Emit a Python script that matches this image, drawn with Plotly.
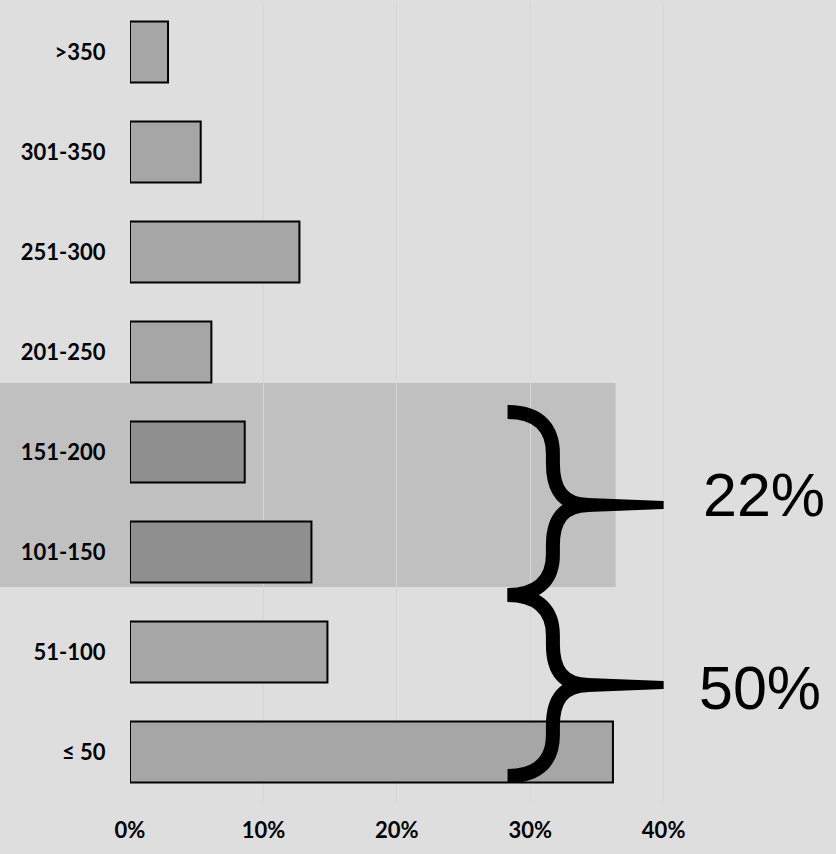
import plotly.graph_objects as go

# ---- data ----
categories = ["≤ 50", "51-100", "101-150", "151-200", "201-250", "251-300", "301-350", ">350"]
shares = [36.2, 14.8, 13.6, 8.6, 6.1, 12.7, 5.3, 2.85]
highlighted = ["101-150", "151-200"]
x_ticks = [0, 10, 20, 30, 40]
x_tick_labels = ["0%", "10%", "20%", "30%", "40%"]
group_labels = ["22%", "50%"]

# ---- layout constants ----
W, H = 836, 854
ML, MR, MT, MB = 130, 0, 2, 52
PW, PH = W - ML - MR, H - MT - MB
X_MAX = 52.92
Y_MIN, Y_MAX = -0.5, 7.5
PX_X = PW / X_MAX                 # pixels per percent
PX_Y = PH / (Y_MAX - Y_MIN)       # pixels per category

BG = "#dedede"
BAND = "#c0c0c0"
BAR = "#a6a6a6"
BAR_HI = "#8f8f8f"

ypos = list(range(len(categories)))
colors = [BAR_HI if c in highlighted else BAR for c in categories]

fig = go.Figure(go.Bar(
    x=shares, y=ypos, orientation="h", width=0.61,
    marker=dict(color=colors, line=dict(color="black", width=2)),
    hoverinfo="skip",
))

shapes = []
# highlighted band (behind bars, extending into the left margin)
hi_idx = [categories.index(c) for c in highlighted]
band_top = max(hi_idx) + 0.69
band_bot = min(hi_idx) - 0.35
def ypaper(v):
    return (v - Y_MIN) / (Y_MAX - Y_MIN)
shapes.append(dict(type="rect", xref="paper", yref="paper", layer="below",
                   x0=-ML / PW, x1=36.4 / X_MAX,
                   y0=ypaper(band_bot), y1=ypaper(band_top),
                   fillcolor=BAND, line=dict(width=0)))

def brace(xl, xs, xt, yt, ym, yb):
    """curly brace opening to the left, pointing right; x in %, y in category units"""
    dx = xs - xl
    out = []
    def P(x, y):
        return f"{x:.4f},{y:.4f}"
    ht = yt - ym
    hb = ym - yb
    xj = xs + 0.8 * dx
    top = ("M " + P(xl, yt) +
           " C " + P(xl + 0.75 * dx, yt) + " " + P(xs, yt - 0.2 * ht) + " " + P(xs, yt - 0.45 * ht) +
           " L " + P(xs, yt - 0.55 * ht) +
           " C " + P(xs, ym + 0.18 * ht) + " " + P(xs + 0.2 * dx, ym) + " " + P(xj, ym))
    bot = ("M " + P(xj, ym) +
           " C " + P(xs + 0.2 * dx, ym) + " " + P(xs, ym - 0.18 * hb) + " " + P(xs, yb + 0.55 * hb) +
           " L " + P(xs, yb + 0.45 * hb) +
           " C " + P(xs, yb + 0.2 * hb) + " " + P(xl + 0.75 * dx, yb) + " " + P(xl, yb))
    out.append(dict(type="path", xref="x", yref="y", path=top + " " + bot,
                    line=dict(color="black", width=14), layer="above"))
    w0 = 7.5 / PX_Y
    w1 = 4.0 / PX_Y
    xw = xs + 0.5 * dx
    tip = ("M " + P(xw, ym + w0) + " L " + P(xt, ym + w1) + " L " + P(xt, ym - w1) +
           " L " + P(xw, ym - w0) + " Z")
    out.append(dict(type="path", xref="x", yref="y", path=tip,
                    fillcolor="black", line=dict(width=0), layer="above"))
    return out

shapes += brace(28.3, 31.7, 40.0, 3.40, 2.47, 1.57)
shapes += brace(28.3, 31.7, 40.0, 1.57, 0.67, -0.24)

annotations = [
    dict(x=42.8, y=2.57, xref="x", yref="y", text=group_labels[0], showarrow=False,
         xanchor="left", yanchor="middle",
         font=dict(family="Liberation Sans, Arial", size=61, color="black")),
    dict(x=42.5, y=0.64, xref="x", yref="y", text=group_labels[1], showarrow=False,
         xanchor="left", yanchor="middle",
         font=dict(family="Liberation Sans, Arial", size=61, color="black")),
]

fig.update_layout(
    width=W, height=H,
    margin=dict(l=ML, r=MR, t=MT, b=MB, pad=0),
    paper_bgcolor=BG, plot_bgcolor=BG,
    showlegend=False,
    shapes=shapes, annotations=annotations,
    xaxis=dict(range=[0, X_MAX], tickvals=x_ticks, ticktext=x_tick_labels,
               showgrid=True, gridcolor="#d6d6d6", gridwidth=1, zeroline=False,
               showline=False, ticks="outside", ticklen=9, tickcolor="rgba(0,0,0,0)",
               tickfont=dict(family="Lato", size=22, color="black", weight="bold"),
               fixedrange=True),
    yaxis=dict(range=[Y_MIN, Y_MAX], tickvals=ypos, ticktext=categories,
               showgrid=False, zeroline=False, showline=False,
               ticks="outside", ticklen=19, tickcolor="rgba(0,0,0,0)",
               tickfont=dict(family="Lato", size=22, color="black", weight="bold"),
               fixedrange=True),
)

fig.write_html("out.html")
